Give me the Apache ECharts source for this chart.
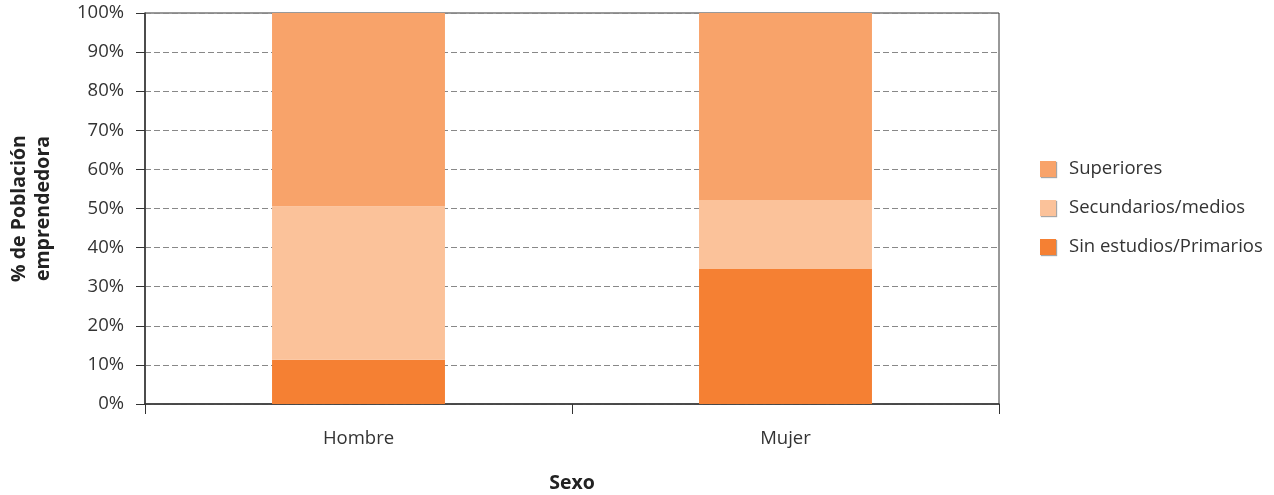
<!DOCTYPE html>
<html>
<head>
<meta charset="utf-8">
<script src="https://cdn.jsdelivr.net/npm/echarts@6/dist/echarts.min.js"></script>
<style>html,body{margin:0;padding:0;background:#fff}#c{width:1274px;height:495px}</style>
</head>
<body>
<div id="c"></div>
<script>
const categories = ['Hombre', 'Mujer'];
const seriesNames = ['Sin estudios/Primarios', 'Secundarios/medios', 'Superiores'];
const sinEstudios = [11.3, 34.5];
const secundarios = [39.3, 17.7];
const superiores = [49.4, 47.8];
const yTicks = [0, 10, 20, 30, 40, 50, 60, 70, 80, 90, 100];
const colors = ['#F58033', '#FBC29A', '#F8A36A'];

const font = 'Open Sans';
const chart = echarts.init(document.getElementById('c'), null, {renderer: 'canvas'});
const values = [sinEstudios, secundarios, superiores];
chart.setOption({
  animation: false,
  textStyle: {fontFamily: font},
  grid: {left: 145, right: 275, top: 13, bottom: 91, containLabel: false, outerBoundsMode: 'none',
    show: true, borderColor: '#333', borderWidth: 1, backgroundColor: 'transparent'},
  legend: {
    orient: 'vertical', left: 1035, top: 154,
    data: [seriesNames[2], seriesNames[1], seriesNames[0]],
    itemWidth: 16, itemHeight: 16, itemGap: 19,
    icon: 'rect',
    textStyle: {fontFamily: font, fontSize: 18.5, color: '#333', lineHeight: 20, padding: [0, 0, 0, 8]},
    itemStyle: {shadowColor: 'rgba(0,0,0,0.35)', shadowOffsetX: 1, shadowOffsetY: 1, shadowBlur: 1}
  },
  xAxis: {
    type: 'category', data: categories,
    name: 'Sexo', nameLocation: 'middle', nameGap: 69,
    nameTextStyle: {fontFamily: font, fontSize: 19.5, fontWeight: 'bold', color: '#222'},
    axisLine: {lineStyle: {color: '#333', width: 1.5}},
    axisTick: {show: true, length: 10, lineStyle: {color: '#333'}},
    axisLabel: {fontFamily: font, fontSize: 18.5, color: '#333', margin: 25}
  },
  yAxis: {
    type: 'value', min: 0, max: 100, interval: 10,
    name: '% de Población\nemprendedora', nameLocation: 'middle', nameGap: 90, nameRotate: 90,
    nameTextStyle: {fontFamily: font, fontSize: 19.5, fontWeight: 'bold', color: '#222', lineHeight: 24},
    axisLine: {show: true, lineStyle: {color: '#333', width: 1.5}},
    axisTick: {show: true, length: 9, lineStyle: {color: '#333'}},
    axisLabel: {fontFamily: font, fontSize: 18.5, color: '#333', margin: 21, padding: [5, 0, 0, 0],
      formatter: v => yTicks.includes(v) ? v + '%' : ''},
    splitLine: {show: true, lineStyle: {color: '#888', type: [6, 3], width: 1}}
  },
  series: seriesNames.map((n, i) => ({
    name: n, type: 'bar', stack: 'total', barWidth: '40.5%',
    data: values[i], itemStyle: {color: colors[i]}
  }))
});
</script>
</body>
</html>
